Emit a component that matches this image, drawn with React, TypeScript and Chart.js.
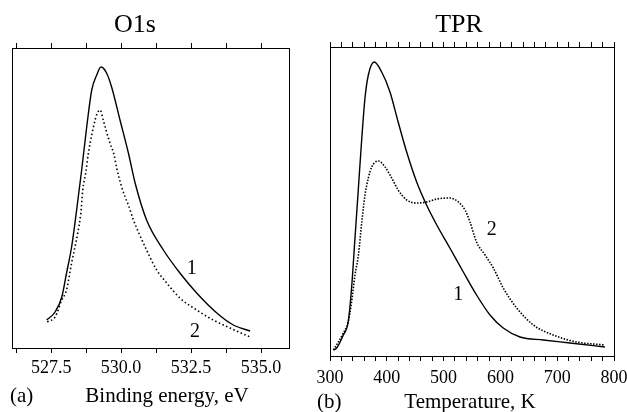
import React, { useEffect, useRef } from 'react';
import { Chart, registerables } from 'chart.js';

Chart.register(...registerables);

// ---------- Panel (a): O1s ----------
const o1sBE1 = [527.34, 527.64, 527.88, 528.05, 528.23, 528.41, 528.59, 528.77, 528.95, 529.13, 529.28, 529.48, 529.66, 529.96, 530.26, 530.5, 530.91, 531.51, 532.1, 532.7, 533.42, 534.01, 534.61];
const o1sI1 = [28, 36, 51, 75, 101, 138, 178, 221, 258, 273, 281, 275, 261, 228, 195, 165, 128, 98, 75, 55, 35, 23, 17];
const o1sBE2 = [527.36, 527.64, 527.88, 528.05, 528.23, 528.35, 528.45, 528.56, 528.63, 528.74, 528.83, 528.95, 529.07, 529.15, 529.25, 529.36, 529.48, 529.6, 529.75, 529.84, 530.02, 530.14, 530.26, 530.44, 530.65, 530.91, 531.27, 531.63, 532.1, 532.7, 533.29, 533.89, 534.61];
const o1sI2 = [26, 31, 48, 58, 85, 101, 115, 135, 158, 176, 195, 213, 228, 235, 238, 228, 216, 205, 193, 180, 161, 151, 143, 128, 114, 98, 78, 65, 50, 38, 28, 20, 11];
const o1sTicks = [526.25, 527.5, 528.75, 530, 531.25, 532.5, 533.75, 535];
const o1sTickLabels = [527.5, 530, 532.5, 535];
const o1sCurveLabels = ['1', '2'];
const o1sCurveLabelX = [532.52, 532.64];
const o1sCurveLabelY = [74, 11];

// ---------- Panel (b): TPR ----------
const tprT1 = [306, 311.7, 323.5, 332, 338, 344, 350, 356, 361.6, 367.5, 378, 391, 405.6, 420, 435, 452.6, 470, 488, 511, 534.7, 558, 581.7, 605, 634.5, 675.5, 722.5, 784];
const tprI1 = [6, 8, 21, 34, 68, 118, 168, 218, 258, 281, 294, 284, 264, 234, 204, 174, 151, 131, 108, 84, 61, 41, 28, 19, 16, 13, 9];
const tprT2 = [306, 323.5, 332, 338, 344, 350, 356, 361.6, 367.5, 373.4, 385, 397, 408.6, 420, 435, 452.6, 470, 488, 511, 526, 537.7, 546.5, 558, 573, 587.5, 605, 628.7, 658, 693, 734, 784];
const tprI2 = [6, 23, 34, 54, 81, 101, 134, 161, 178, 189, 195, 189, 178, 166, 156, 153, 154, 157, 158, 154, 146, 134, 114, 101, 88, 68, 48, 31, 21, 14, 11];
const tprTicks = [300, 320, 340, 360, 380, 400, 420, 440, 460, 480, 500, 520, 540, 560, 580, 600, 620, 640, 660, 680, 700, 720, 740, 760, 780, 800];
const tprTickLabels = [300, 400, 500, 600, 700, 800];
const tprCurveLabels = ['1', '2'];
const tprCurveLabelX = [525.9, 584.7];
const tprCurveLabelY = [56, 121];

const FONT = '"Liberation Serif", "Times New Roman", Times, serif';

type TextItem = { text: string; x: number; y: number; size: number; align: CanvasTextAlign };

type PanelSpec = {
  width: number;
  pageLeft: number;
  xMin: number;
  xMax: number;
  yMax: number;
  ticks: number[];
  tickLabels: number[];
  decimals: number;
  tickPad: number;
  bottomH: number;
  padding: { left: number; right: number; top: number; bottom: number };
  x1: number[];
  y1: number[];
  x2: number[];
  y2: number[];
  dash: number[];
  curveLabels: string[];
  curveLabelX: number[];
  curveLabelY: number[];
  texts: TextItem[];
};

const panels: PanelSpec[] = [
  {
    width: 310,
    pageLeft: 0,
    xMin: 526.1,
    xMax: 536.0,
    yMax: 300,
    ticks: o1sTicks,
    tickLabels: o1sTickLabels,
    decimals: 1,
    tickPad: 4,
    bottomH: 64,
    padding: { left: 12, right: 21, top: 42, bottom: 0 },
    x1: o1sBE1,
    y1: o1sI1,
    x2: o1sBE2,
    y2: o1sI2,
    dash: [1.5, 2.5],
    curveLabels: o1sCurveLabels,
    curveLabelX: o1sCurveLabelX,
    curveLabelY: o1sCurveLabelY,
    texts: [
      { text: 'O1s', x: 135, y: 32, size: 26, align: 'center' },
      { text: '(a)', x: 10, y: 402, size: 21, align: 'left' },
      { text: 'Binding energy, eV', x: 167, y: 402, size: 21, align: 'center' },
    ],
  },
  {
    width: 317,
    pageLeft: 310,
    xMin: 300,
    xMax: 800,
    yMax: 309,
    ticks: tprTicks,
    tickLabels: tprTickLabels,
    decimals: 0,
    tickPad: 6,
    bottomH: 56,
    padding: { left: 20, right: 13, top: 41, bottom: 0 },
    x1: tprT1,
    y1: tprI1,
    x2: tprT2,
    y2: tprI2,
    dash: [1.5, 1.5],
    curveLabels: tprCurveLabels,
    curveLabelX: tprCurveLabelX,
    curveLabelY: tprCurveLabelY,
    texts: [
      { text: 'TPR', x: 149, y: 32, size: 26, align: 'center' },
      { text: '(b)', x: 7, y: 408, size: 21, align: 'left' },
      { text: 'Temperature, K', x: 160, y: 408, size: 21, align: 'center' },
    ],
  },
];

function xScale(p: PanelSpec, pos: 'top' | 'bottom') {
  return {
    type: 'linear' as const,
    position: pos,
    min: p.xMin,
    max: p.xMax,
    afterBuildTicks: (s: any) => {
      s.ticks = p.ticks.map((v) => ({ value: v }));
    },
    afterFit: (s: any) => {
      s.height = pos === 'bottom' ? p.bottomH : 6;
      s.paddingLeft = 0;
      s.paddingRight = 0;
    },
    grid: {
      display: true,
      drawOnChartArea: false,
      drawTicks: true,
      tickLength: 5,
      color: '#000',
      lineWidth: 1,
    },
    border: { display: false },
    ticks: {
      display: pos === 'bottom',
      autoSkip: false,
      maxRotation: 0,
      minRotation: 0,
      padding: p.tickPad,
      color: '#000',
      font: { family: FONT, size: 18 },
      callback: (v: any) => (p.tickLabels.some((t) => Math.abs(t - Number(v)) < 1e-6) ? Number(v).toFixed(p.decimals) : ''),
    },
  };
}

function makeChart(canvas: HTMLCanvasElement, p: PanelSpec) {
  const annot = {
    id: 'annot',
    afterDraw(chart: any) {
      const { ctx, chartArea: a, scales } = chart;
      ctx.save();
      ctx.strokeStyle = '#000';
      ctx.lineWidth = 1;
      ctx.strokeRect(a.left + 0.5, a.top + 0.5, a.right - a.left, a.bottom - a.top);
      ctx.fillStyle = '#000';
      ctx.textBaseline = 'alphabetic';
      for (const t of p.texts) {
        ctx.font = `${t.size}px ${FONT}`;
        ctx.textAlign = t.align;
        ctx.fillText(t.text, t.x, t.y);
      }
      ctx.font = `20px ${FONT}`;
      ctx.textAlign = 'center';
      p.curveLabels.forEach((lab, i) => {
        ctx.fillText(lab, scales.x.getPixelForValue(p.curveLabelX[i]), scales.y.getPixelForValue(p.curveLabelY[i]));
      });
      ctx.restore();
    },
  };

  return new Chart(canvas, {
    type: 'scatter',
    data: {
      datasets: [
        {
          label: '1',
          data: p.x1.map((x, i) => ({ x, y: p.y1[i] })),
          showLine: true,
          borderColor: '#000',
          borderWidth: 1.4,
          pointRadius: 0,
          cubicInterpolationMode: 'monotone',
        },
        {
          label: '2',
          data: p.x2.map((x, i) => ({ x, y: p.y2[i] })),
          showLine: true,
          borderColor: '#000',
          borderWidth: 1.6,
          borderDash: p.dash,
          pointRadius: 0,
          cubicInterpolationMode: 'monotone',
        },
      ],
    },
    options: {
      animation: false,
      responsive: false,
      maintainAspectRatio: false,
      devicePixelRatio: 1,
      layout: { padding: p.padding },
      plugins: {
        legend: { display: false },
        tooltip: { enabled: false },
        title: { display: false },
      },
      scales: {
        x: xScale(p, 'bottom') as any,
        x2: xScale(p, 'top') as any,
        y: {
          type: 'linear',
          display: false,
          min: 0,
          max: p.yMax,
        },
      },
    },
    plugins: [annot],
  });
}

function Panel({ spec }: { spec: PanelSpec }) {
  const ref = useRef<HTMLCanvasElement | null>(null);
  useEffect(() => {
    if (!ref.current) return;
    const chart = makeChart(ref.current, spec);
    return () => chart.destroy();
  }, [spec]);
  return (
    <canvas
      ref={ref}
      width={spec.width}
      height={412}
      style={{ position: 'absolute', left: spec.pageLeft, top: 0, width: spec.width, height: 412, display: 'block' }}
    />
  );
}

export default function App() {
  return (
    <div style={{ position: 'fixed', left: 0, top: 0, width: 627, height: 412, background: '#fff', overflow: 'hidden' }}>
      {panels.map((p, i) => (
        <Panel key={i} spec={p} />
      ))}
    </div>
  );
}
